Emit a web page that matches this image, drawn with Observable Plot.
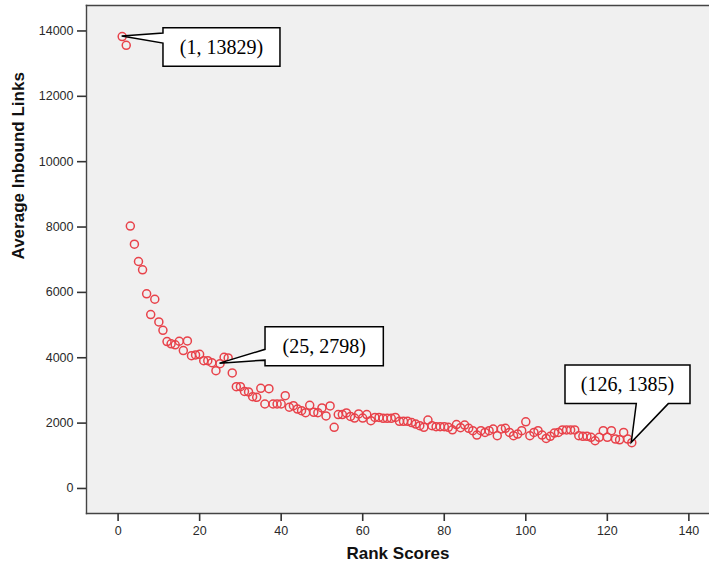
<!DOCTYPE html>
<html>
<head>
<meta charset="utf-8">
<script src="https://cdn.jsdelivr.net/npm/d3@7"></script>
<script src="https://cdn.jsdelivr.net/npm/@observablehq/plot@0.6"></script>
<style>
  html, body { margin: 0; padding: 0; background: #fff; }
</style>
</head>
<body>
<div id="chart"></div>
<script>
// Rank scores (1..126) and average inbound links
const ranks = d3.range(1, 127);
const avgLinks = [
  13829, 13560, 8030, 7475, 6945, 6690, 5955, 5320, 5790, 5095,
  4840, 4495, 4425, 4395, 4505, 4220, 4515, 4065, 4085, 4105,
  3910, 3910, 3850, 3605, 3820, 4015, 3995, 3535, 3115, 3115,
  2970, 2955, 2810, 2790, 3065, 2585, 3055, 2585, 2585, 2585,
  2840, 2485, 2535, 2430, 2380, 2320, 2545, 2330, 2320, 2465,
  2220, 2525, 1870, 2260, 2260, 2310, 2205, 2155, 2280, 2155,
  2260, 2075, 2175, 2175, 2145, 2145, 2145, 2175, 2055, 2055,
  2055, 2015, 1970, 1920, 1870, 2095, 1920, 1890, 1890, 1890,
  1870, 1795, 1955, 1860, 1940, 1840, 1770, 1635, 1770, 1715,
  1770, 1820, 1615, 1820, 1840, 1715, 1615, 1665, 1770, 2040,
  1615, 1715, 1770, 1635, 1530, 1595, 1695, 1715, 1790, 1790,
  1790, 1790, 1615, 1595, 1595, 1565, 1460, 1565, 1770, 1565,
  1770, 1510, 1490, 1715, 1510, 1400
];
const xTicks = [0, 20, 40, 60, 80, 100, 120, 140];
const yTicks = [0, 2000, 4000, 6000, 8000, 10000, 12000, 14000];
const xLabel = "Rank Scores";
const yLabel = "Average Inbound Links";

// Callout annotations
const calloutRanks = [1, 25, 126];
const calloutLabels = ["(1, 13829)", "(25, 2798)", "(126, 1385)"];
// callout box geometry (pixel offsets from the pointed-at dot) - style only
const calloutStyles = [
  {dx: 41.3, dy: -8.3, w: 117, h: 38.5, side: "left", a: -3, b: 7},
  {dx: 45.5, dy: -36.4, w: 118.3, h: 39, side: "left", a: -13.8, b: -3},
  {dx: -66.3, dy: -77.2, w: 125, h: 38.6, side: "bottom", a: 5, b: 37}
];

function calloutMark(index, scales) {
  const g = d3.create("svg:g");
  calloutRanks.forEach((r, i) => {
    const tx = scales.x(r);
    const ty = scales.y(avgLinks[ranks.indexOf(r)]);
    const s = calloutStyles[i];
    const L = s.dx, T = s.dy, R = s.dx + s.w, B = s.dy + s.h;
    let d;
    if (s.side === "left") {
      d = `M${L},${T}H${R}V${B}H${L}V${s.b}L0,0L${L},${s.a}Z`;
    } else {
      d = `M${L},${T}H${R}V${B}H${s.b}L0,0L${s.a},${B}H${L}Z`;
    }
    const gg = g.append("g").attr("transform", `translate(${tx},${ty})`);
    gg.append("path")
      .attr("d", d)
      .attr("fill", "#fff")
      .attr("stroke", "#000")
      .attr("stroke-width", 1.5)
      .attr("stroke-linejoin", "miter");
    gg.append("text")
      .attr("x", L + s.w / 2)
      .attr("y", T + s.h / 2)
      .attr("dy", "0.35em")
      .attr("text-anchor", "middle")
      .attr("font-family", "'Liberation Serif', 'Times New Roman', serif")
      .attr("font-size", 20)
      .attr("fill", "#000")
      .text(calloutLabels[i]);
  });
  return g.node();
}

const chart = Plot.plot({
  width: 709,
  height: 569,
  marginLeft: 86,
  marginRight: 0,
  marginTop: 5,
  marginBottom: 56,
  style: {
    fontFamily: "'Liberation Sans', Arial, sans-serif",
    fontSize: "12.5px",
    color: "#2a2a2a",
    background: "#fff",
    overflow: "visible"
  },
  x: {domain: [-7.75, 145.06]},
  y: {domain: [-766, 14779]},
  marks: [
    Plot.frame({fill: "#f0f0f0", stroke: null}),
    Plot.frame({anchor: "left", stroke: "#444", strokeWidth: 1.4}),
    Plot.frame({anchor: "top", stroke: "#444", strokeWidth: 1.6}),
    Plot.frame({anchor: "bottom", stroke: "#444", strokeWidth: 1.4}),
    Plot.axisX({ticks: xTicks, tickSize: 8, tickPadding: 5, strokeWidth: 1.6, stroke: "#333", label: null, tickFormat: d => String(d)}),
    Plot.axisY({ticks: yTicks, tickSize: 9, tickPadding: 4, strokeWidth: 1.6, stroke: "#333", label: null, tickFormat: d => String(d)}),
    Plot.dot(ranks, {
      x: d => d,
      y: (d, i) => avgLinks[i],
      r: 4,
      fill: "none",
      stroke: "#e8424a",
      strokeWidth: 1.5
    }),
    calloutMark,
    Plot.text([xLabel], {
      frameAnchor: "bottom",
      dy: 45,
      text: d => d,
      fontSize: 17,
      fontWeight: "bold",
      fill: "#111"
    }),
    Plot.text([yLabel], {
      frameAnchor: "left",
      dx: -68,
      rotate: -90,
      text: d => d,
      fontSize: 17,
      fontWeight: "bold",
      fill: "#111"
    })
  ]
});
document.getElementById("chart").appendChild(chart);
</script>
</body>
</html>
